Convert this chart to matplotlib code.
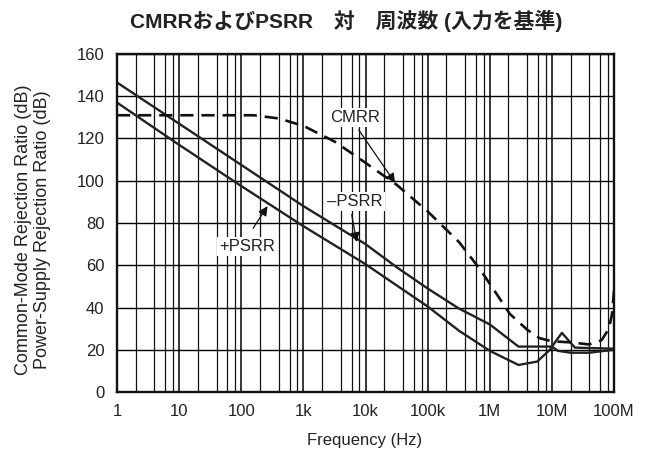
import matplotlib
matplotlib.use('Agg')
import matplotlib.pyplot as plt

plt.rcParams['font.family'] = ['Liberation Sans', 'Noto Sans CJK JP', 'DejaVu Sans']

# ---- data ----
cmrr_f = [1, 160, 400, 1e3, 3.2e3, 1e4, 3.2e4, 1e5, 3.2e5, 7e5, 1.25e6, 2.1e6,
          4e6, 6.3e6, 1e7, 2e7, 4e7, 6.3e7, 8.3e7, 9.3e7, 1e8]
cmrr_db = [131, 131, 129.5, 126, 118.5, 108.5, 98, 85.5, 71, 58, 47, 37,
           29.5, 25.5, 24, 23.5, 22.5, 24.5, 30, 37, 48]

npsrr_f = [1, 10, 100, 1e3, 1e4, 3.2e4, 1e5, 3.2e5, 1e6, 2.9e6, 1e7, 1.25e7,
           2e7, 4e7, 1e8]
npsrr_db = [146.5, 127, 107.5, 88, 70, 59, 49, 39.5, 32, 21.5, 21.5, 19.5,
            18.6, 18.6, 20]

ppsrr_f = [1, 10, 100, 1e3, 1e4, 1e5, 3.2e5, 1e6, 2.9e6, 5.8e6, 9.3e6, 1.05e7,
           1.45e7, 2.35e7, 1e8]
ppsrr_db = [137, 117, 97.5, 78.5, 60.5, 40.5, 29, 19.5, 12.8, 14.4, 20, 22.3,
            28, 21, 20.5]

xtick_vals = [1, 10, 100, 1e3, 1e4, 1e5, 1e6, 1e7, 1e8]
xtick_labels = ['1', '10', '100', '1k', '10k', '100k', '1M', '10M', '100M']
ytick_vals = [0, 20, 40, 60, 80, 100, 120, 140, 160]

title = 'CMRRおよびPSRR\u3000対\u3000周波数 (入力を基準)'
ylabel = 'Common-Mode Rejection Ratio (dB)\nPower-Supply Rejection Ratio (dB)'
xlabel = 'Frequency (Hz)'

# annotation: label, text position, arrow tail, arrow tip (data coords)
annots = [
    ('CMRR', (6.8e3, 130), (7.8e3, 124), (3.0e4, 99)),
    ('–PSRR', (6.8e3, 90), (6.0e3, 84), (7.2e3, 71)),
    ('+PSRR', (124, 69), (155, 77.5), (265, 88)),
]

# ---- figure ----
fig = plt.figure(figsize=(6.6, 4.58), dpi=100)
ax = fig.add_axes([117/660, 1-392/458, (614-117)/660, (392-54)/458])
ax.set_xscale('log')
ax.set_xlim(1, 1e8)
ax.set_ylim(0, 160)

minor = [m * d for d in xtick_vals[:-1] for m in (2, 4, 6, 8)]
for xv in minor:
    ax.axvline(xv, color='#111111', lw=0.9, zorder=1)
for xv in xtick_vals:
    ax.axvline(xv, color='#000000', lw=1.1, zorder=1)
for yv in ytick_vals:
    ax.axhline(yv, color='#000000', lw=1.0, zorder=1)

ax.plot(npsrr_f, npsrr_db, color='#222222', lw=1.7, zorder=3)
ax.plot(ppsrr_f, ppsrr_db, color='#222222', lw=1.7, zorder=3)
ax.plot(cmrr_f, cmrr_db, color='#111111', lw=1.9, ls=(0, (5, 3)), zorder=3)

for lab, tpos, tail, tip in annots:
    ax.text(tpos[0], tpos[1], lab, fontsize=12, color='#222222',
            ha='center', va='center', zorder=5,
            bbox=dict(boxstyle='square,pad=0.12', fc='white', ec='none'))
    ax.annotate('', xy=tip, xytext=tail, zorder=6,
                arrowprops=dict(arrowstyle='-|>', color='#111111', lw=0.9,
                                mutation_scale=14, shrinkA=0, shrinkB=0))

ax.set_xticks(xtick_vals)
ax.set_xticklabels(xtick_labels)
ax.set_xticks([], minor=True)
ax.set_yticks(ytick_vals)
ax.tick_params(length=0, labelsize=12, pad=9, colors='#222222')
for s in ax.spines.values():
    s.set_linewidth(1.7)
    s.set_color('#111111')
    s.set_zorder(6)

fig.text(365/660, 1-440/458, xlabel, fontsize=12, color='#222222',
         ha='center', va='center')
fig.text(33/660, 1-230/458, ylabel, fontsize=13, color='#222222',
         ha='center', va='center', rotation=90, multialignment='center',
         linespacing=1.15)
fig.text(346/660, 1-21/458, title, fontsize=15, fontweight='bold',
         ha='center', va='center', color='#222222')

fig.savefig('out.png', dpi=100)
